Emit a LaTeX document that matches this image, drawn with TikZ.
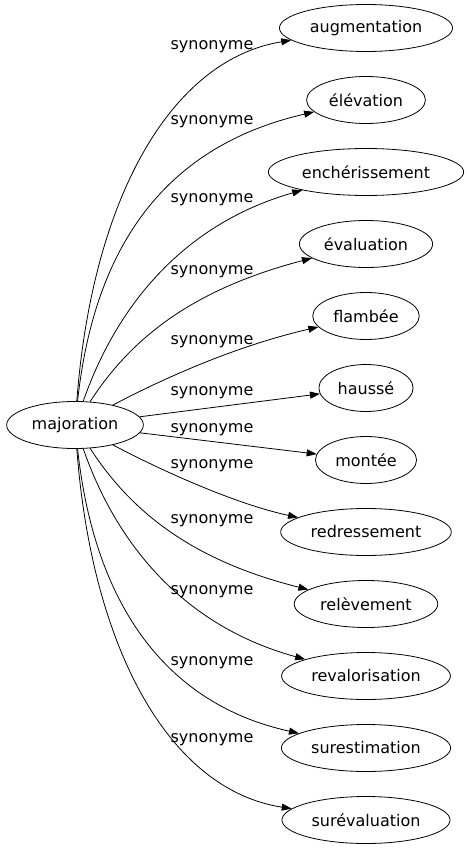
\documentclass[tikz,border=0pt]{standalone}
\usepackage{fontspec}
\setmainfont{DejaVu Sans}
\usetikzlibrary{shapes.geometric,arrows.meta}
\tikzset{
    word/.style={draw,ellipse,line width=0.8pt,minimum height=47pt,inner xsep=5pt,font=\fontsize{16}{19}\selectfont},
    synlabel/.style={font=\fontsize{16}{19}\selectfont},
    syn/.style={line width=0.8pt,-{Triangle[length=10pt,width=7pt]}}
}
\begin{document}
\begin{tikzpicture}[x=1pt,y=-1pt]
        \useasboundingbox (0,0) rectangle (466,851);
        \node[word] (maj) at (75,425) {majoration};
        \node[word] (aug) at (366,28) {augmentation};
        \node[word] (ele) at (366,100) {élévation};
        \node[word] (enc) at (366,172) {enchérissement};
        \node[word] (eva) at (366,244) {évaluation};
        \node[word] (fla) at (366,316) {flambée};
        \node[word] (hau) at (366,388) {haussé};
        \node[word] (mon) at (366,460) {montée};
        \node[word] (red) at (366,532) {redressement};
        \node[word] (rel) at (366,604) {relèvement};
        \node[word] (rev) at (366,676) {revalorisation};
        \node[word] (sue) at (366,748) {surestimation};
        \node[word] (sur) at (366,820) {surévaluation};
        \node[synlabel] (s1) at (212,47) {synonyme};
        \node[synlabel] (s2) at (212,122) {synonyme};
        \node[synlabel] (s3) at (212,200) {synonyme};
        \node[synlabel] (s4) at (212,272) {synonyme};
        \node[synlabel] (s5) at (212,342) {synonyme};
        \node[synlabel] (s6) at (212,393) {synonyme};
        \node[synlabel] (s7) at (212,430) {synonyme};
        \node[synlabel] (s8) at (212,466) {synonyme};
        \node[synlabel] (s9) at (212,521) {synonyme};
        \node[synlabel] (s10) at (212,592) {synonyme};
        \node[synlabel] (s11) at (212,663) {synonyme};
        \node[synlabel] (s12) at (212,740) {synonyme};
        \draw[syn] (maj) .. controls (92,200) and (170,60) .. (aug);
        \draw[syn] (maj) .. controls (95,240) and (170,145) .. (ele);
        \draw[syn] (maj) .. controls (115,310) and (180,225) .. (enc);
        \draw[syn] (maj) .. controls (130,340) and (190,290) .. (eva);
        \draw[syn] (maj) .. controls (170,375) and (240,345) .. (fla);
        \draw[syn] (maj) -- (hau);
        \draw[syn] (maj) -- (mon);
        \draw[syn] (maj) .. controls (170,475) and (240,505) .. (red);
        \draw[syn] (maj) .. controls (130,510) and (190,560) .. (rel);
        \draw[syn] (maj) .. controls (115,540) and (180,625) .. (rev);
        \draw[syn] (maj) .. controls (95,610) and (170,705) .. (sue);
        \draw[syn] (maj) .. controls (92,650) and (170,790) .. (sur);
    \end{tikzpicture}
\end{document}
